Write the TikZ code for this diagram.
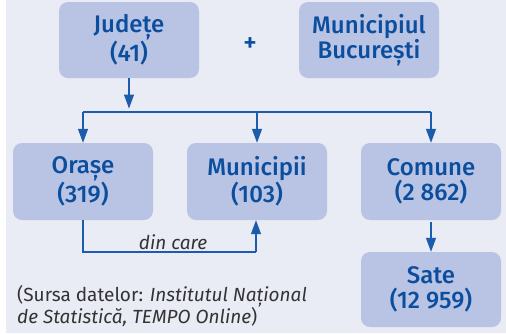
\documentclass[tikz,border=0pt]{standalone}
\usepackage{fontspec}
\setmainfont{Fira Sans}[BoldFont={Fira Sans Medium}]
\usetikzlibrary{arrows.meta}
\definecolor{bgc}{HTML}{E9EBF5}
\definecolor{boxc}{HTML}{B9C3E3}
\definecolor{txtc}{HTML}{0B4E9E}
\definecolor{linec}{HTML}{1D5CAD}
\definecolor{grayt}{HTML}{333333}
\tikzset{
  unitbox/.style={fill=boxc, rounded corners=9pt, minimum width=140pt, minimum height=76pt,
    text=txtc, font=\fontsize{24}{25}\selectfont\bfseries, align=center, inner sep=0pt},
  conn/.style={draw=linec, line width=1.2pt},
  tipped/.style={conn, -{Triangle[width=10pt,length=14pt]}},
}
\begin{document}
\begin{tikzpicture}[x=1pt,y=-1pt]
\useasboundingbox (0,0) rectangle (506,333);
\fill[white] (0,0) rectangle (506,333);
\fill[bgc] (6,0) rectangle (506,333);
\node[unitbox] (jud) at (129,40) {Județe\\(41)};
\node[unitbox] (buc) at (369,40) {Municipiul\\București};
\node[text=txtc, font=\fontsize{26}{26}\selectfont\bfseries] (plus) at (250,45) {+};
\node[unitbox, minimum height=77pt] (ora) at (83,181.5) {Orașe\\(319)};
\node[unitbox, minimum height=77pt] (mun) at (257,181.5) {Municipii\\(103)};
\node[unitbox, minimum height=77pt] (com) at (431,181.5) {Comune\\(2 862)};
\node[unitbox, minimum height=75pt] (sat) at (431,289.5) {Sate\\(12 959)};
\coordinate (busL) at (83,112);
\coordinate (busR) at (431,112);
\coordinate (busJ) at (129,108.5);
\coordinate (busM) at (257,112);
\coordinate (dcL) at (83,252);
\coordinate (dcR) at (256,252);
\draw[tipped] (jud.south) -- (busJ);
\draw[conn] (busL) -- (busR);
\draw[tipped] (busL) -- (ora.north);
\draw[tipped] (busM) -- (mun.north);
\draw[tipped] (busR) -- (com.north);
\draw[conn] (ora.south) -- (dcL) -- (dcR);
\draw[tipped] (dcR) -- (dcR |- mun.south);
\draw[tipped] ([yshift=-2pt]com.south) -- (sat.north);
\node[text=grayt, font=\fontsize{19}{20}\selectfont\itshape] (dc) at (173,242) {din care};
\node[text=grayt, font=\fontsize{19}{22}\selectfont, align=left, anchor=north west, inner sep=0pt] (src) at (17,285)
  {(Sursa datelor: \textit{Institutul Național}\\\textit{de Statistică, TEMPO Online})};
\end{tikzpicture}
\end{document}
